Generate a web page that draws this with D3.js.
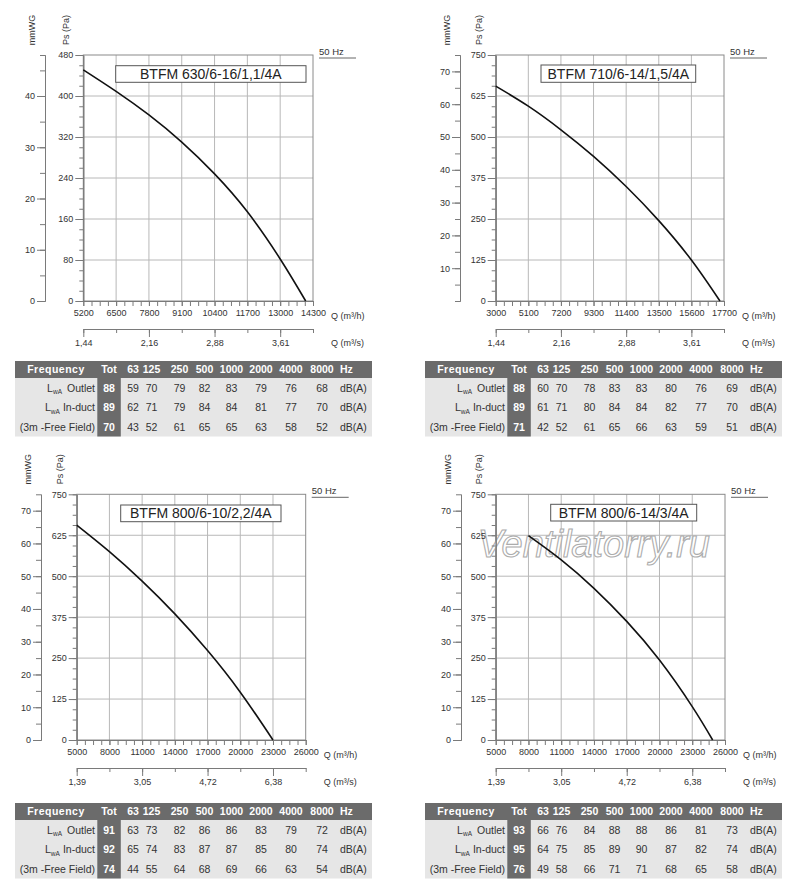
<!DOCTYPE html>
<html>
<head>
<meta charset="utf-8">
<script src="https://cdn.jsdelivr.net/npm/d3@7"></script>
<style>
body{margin:0;background:#fff;}
svg text{font-family:"Liberation Sans",Arial,sans-serif;fill:#333;}
</style>
</head>
<body>
<svg id="chart" width="800" height="893"></svg>
<script>
// shared table headings
var bands = ['63', '125', '250', '500', '1000', '2000', '4000', '8000'];
var rowNames = ['Outlet', 'In-duct', '(3m -Free Field)'];

// BTFM 630/6-16/1,1/4A
var c1Title = 'BTFM 630/6-16/1,1/4A';
var c1Q = [5200, 6500, 7800, 9100, 10400, 11700, 13000, 14010];
var c1Ps = [451, 409, 363, 310, 248, 174, 82, 0];
var c1QTicks = [5200, 6500, 7800, 9100, 10400, 11700, 13000, 14300];
var c1PaTicks = [0, 80, 160, 240, 320, 400, 480];
var c1MmTicks = [0, 10, 20, 30, 40];
var c1SecLabels = ['1,44', '2,16', '2,88', '3,61'];
var c1Tot = [88, 89, 70];
var c1Outlet = [59, 70, 79, 82, 83, 79, 76, 68];
var c1InDuct = [62, 71, 79, 84, 84, 81, 77, 70];
var c1Free = [43, 52, 61, 65, 65, 63, 58, 52];

// BTFM 710/6-14/1,5/4A
var c2Title = 'BTFM 710/6-14/1,5/4A';
var c2Q = [3000, 5100, 7200, 9300, 11400, 13500, 15600, 17440];
var c2Ps = [655, 594, 522, 441, 349, 245, 125, 0];
var c2QTicks = [3000, 5100, 7200, 9300, 11400, 13500, 15600, 17700];
var c2PaTicks = [0, 125, 250, 375, 500, 625, 750];
var c2MmTicks = [10, 20, 30, 40, 50, 60, 70];
var c2SecLabels = ['1,44', '2,16', '2,88', '3,61'];
var c2Tot = [88, 89, 71];
var c2Outlet = [60, 70, 78, 83, 83, 80, 76, 69];
var c2InDuct = [61, 71, 80, 84, 84, 82, 77, 70];
var c2Free = [42, 52, 61, 65, 66, 63, 59, 51];

// BTFM 800/6-10/2,2/4A
var c3Title = 'BTFM 800/6-10/2,2/4A';
var c3Q = [5000, 8000, 11000, 14000, 17000, 20000, 23000];
var c3Ps = [656, 575, 485, 385, 273, 146, 0];
var c3QTicks = [5000, 8000, 11000, 14000, 17000, 20000, 23000, 26000];
var c3PaTicks = [0, 125, 250, 375, 500, 625, 750];
var c3MmTicks = [0, 10, 20, 30, 40, 50, 60, 70];
var c3SecLabels = ['1,39', '3,05', '4,72', '6,38'];
var c3Tot = [91, 92, 74];
var c3Outlet = [63, 73, 82, 86, 86, 83, 79, 72];
var c3InDuct = [65, 74, 83, 87, 87, 85, 80, 74];
var c3Free = [44, 55, 64, 68, 69, 66, 63, 54];

// BTFM 800/6-14/3/4A
var c4Title = 'BTFM 800/6-14/3/4A';
var c4Q = [8000, 11000, 14000, 17000, 20000, 23000, 24870];
var c4Ps = [624, 550, 463, 362, 244, 102, 0];
var c4QTicks = [5000, 8000, 11000, 14000, 17000, 20000, 23000, 26000];
var c4PaTicks = [0, 125, 250, 375, 500, 625, 750];
var c4MmTicks = [0, 10, 20, 30, 40, 50, 60, 70];
var c4SecLabels = ['1,39', '3,05', '4,72', '6,38'];
var c4Tot = [93, 95, 76];
var c4Outlet = [66, 76, 84, 88, 88, 86, 81, 73];
var c4InDuct = [64, 75, 85, 89, 90, 87, 82, 74];
var c4Free = [49, 58, 66, 71, 71, 68, 65, 58];

var charts = [
    {title: c1Title, q: c1Q, ps: c1Ps, qTicks: c1QTicks, paTicks: c1PaTicks, mmTicks: c1MmTicks, sec: c1SecLabels, tot: c1Tot, rows: [c1Outlet, c1InDuct, c1Free]},
    {title: c2Title, q: c2Q, ps: c2Ps, qTicks: c2QTicks, paTicks: c2PaTicks, mmTicks: c2MmTicks, sec: c2SecLabels, tot: c2Tot, rows: [c2Outlet, c2InDuct, c2Free]},
    {title: c3Title, q: c3Q, ps: c3Ps, qTicks: c3QTicks, paTicks: c3PaTicks, mmTicks: c3MmTicks, sec: c3SecLabels, tot: c3Tot, rows: [c3Outlet, c3InDuct, c3Free]},
    {title: c4Title, q: c4Q, ps: c4Ps, qTicks: c4QTicks, paTicks: c4PaTicks, mmTicks: c4MmTicks, sec: c4SecLabels, tot: c4Tot, rows: [c4Outlet, c4InDuct, c4Free]}
];

// where each panel sits on the page
var layout = [
    {mmX: 45, left: 83.3, right: 313, top: 55, bottom: 301, tableX: 15, tableY: 361, box: [115.7, 65.7, 190.3, 16.6]},
    {mmX: 460, left: 495.7, right: 724, top: 55, bottom: 301, tableX: 425, tableY: 361, box: [541, 65, 154.7, 17.3]},
    {mmX: 41, left: 76.7, right: 305.7, top: 494.3, bottom: 740, tableX: 15, tableY: 803, box: [120.7, 505, 160.3, 16.7]},
    {mmX: 461, left: 495.7, right: 725, top: 494.3, bottom: 740, tableX: 425, tableY: 803, box: [550.7, 504.3, 146, 16.7], watermark: true}
];

var svg = d3.select('#chart');
var axisColor = '#7a7a7a';
var gridColor = '#b8b8b8';

charts.forEach(function(c, i){
    drawChart(c, layout[i]);
    drawTable(c, layout[i]);
});

function styleAxis(sel, size){
    sel.attr('color', axisColor)
        .attr('font-size', size || 9)
        .attr('font-family', null);
    sel.select('.domain').attr('stroke', axisColor);
}

function drawChart(c, L){
    var qMin = c.qTicks[0], qMax = c.qTicks[c.qTicks.length-1];
    var paMax = c.paTicks[c.paTicks.length-1];
    var x = d3.scaleLinear().domain([qMin, qMax]).range([L.left, L.right]);
    var y = d3.scaleLinear().domain([0, paMax]).range([L.bottom, L.top]);
    // chart uses 1 mmWG = 10 Pa
    var ymm = d3.scaleLinear().domain([0, paMax/10]).range([L.bottom, L.top]);

    var g = svg.append('g');

    //grid
    g.append('g').selectAll('line')
        .data(c.qTicks.slice(1, -1))
        .join('line')
        .attr('x1', x).attr('x2', x)
        .attr('y1', L.top).attr('y2', L.bottom)
        .attr('stroke', gridColor);
    g.append('g').selectAll('line')
        .data(c.paTicks.slice(1, -1))
        .join('line')
        .attr('x1', L.left).attr('x2', L.right)
        .attr('y1', y).attr('y2', y)
        .attr('stroke', gridColor);

    g.append('rect')
        .attr('x', L.left).attr('y', L.top)
        .attr('width', L.right-L.left).attr('height', L.bottom-L.top)
        .attr('fill', 'none').attr('stroke', '#8a8a8a');

    if(L.watermark){
        g.append('text')
            .attr('x', L.left-18).attr('y', L.top+63)
            .attr('font-size', 38)
            .attr('font-style', 'italic')
            .style('fill', '#fff')
            .style('fill-opacity', 0.8)
            .style('stroke', '#acacac')
            .style('stroke-width', 1.1)
            .text('Ventilatorry.ru');
    }

    //title box
    g.append('rect')
        .attr('x', L.box[0]).attr('y', L.box[1])
        .attr('width', L.box[2]).attr('height', L.box[3])
        .attr('fill', '#fff').attr('stroke', '#555');
    g.append('text')
        .attr('x', L.box[0]+L.box[2]/2).attr('y', L.box[1]+L.box[3]/2+5)
        .attr('text-anchor', 'middle')
        .attr('font-size', 14)
        .style('fill', '#222')
        .text(c.title);

    //50 Hz
    g.append('text')
        .attr('x', L.right+6).attr('y', L.top)
        .attr('font-size', 9.5)
        .text('50 Hz');
    g.append('line')
        .attr('x1', L.right+6).attr('x2', L.right+43)
        .attr('y1', L.top+3).attr('y2', L.top+3)
        .attr('stroke', '#666');

    //Pa axis
    var paStep = c.paTicks[1]-c.paTicks[0];
    var paMinor = d3.range(0, paMax+0.001, paStep/4);
    g.append('g')
        .attr('transform', 'translate('+L.left+',0)')
        .call(d3.axisLeft(y).tickValues(paMinor).tickSize(4).tickFormat('').tickSizeOuter(0))
        .call(styleAxis);
    g.append('g')
        .attr('transform', 'translate('+L.left+',0)')
        .call(d3.axisLeft(y).tickValues(c.paTicks).tickSize(8).tickPadding(2).tickSizeOuter(0))
        .call(styleAxis);

    //mmWG axis
    var mmMinor = d3.range(0, paMax/10, 5);
    g.append('g')
        .attr('transform', 'translate('+L.mmX+',0)')
        .call(d3.axisLeft(ymm).tickValues(mmMinor).tickSize(5).tickFormat('').tickSizeOuter(5))
        .call(styleAxis);
    g.append('g')
        .attr('transform', 'translate('+L.mmX+',0)')
        .call(d3.axisLeft(ymm).tickValues(c.mmTicks).tickSize(8).tickPadding(2).tickSizeOuter(0))
        .call(styleAxis);

    //axis titles
    g.append('text')
        .attr('transform', 'translate('+(L.mmX-13)+','+(L.top-25)+') rotate(-90)')
        .attr('text-anchor', 'middle')
        .attr('dominant-baseline', 'central')
        .attr('font-size', 9)
        .text('mmWG');
    g.append('text')
        .attr('transform', 'translate('+(L.left-17)+','+(L.top-25)+') rotate(-90)')
        .attr('text-anchor', 'middle')
        .attr('dominant-baseline', 'central')
        .attr('font-size', 9)
        .text('Ps (Pa)');

    //Q m3/h axis
    var qStep = c.qTicks[1]-c.qTicks[0];
    var qMinor = d3.range(qMin, qMax+1, qStep/4);
    g.append('g')
        .attr('transform', 'translate(0,'+L.bottom+')')
        .call(d3.axisBottom(x).tickValues(qMinor).tickSize(5).tickFormat('').tickSizeOuter(0))
        .call(styleAxis);
    g.append('g')
        .attr('transform', 'translate(0,'+L.bottom+')')
        .call(d3.axisBottom(x).tickValues(c.qTicks).tickSize(5).tickPadding(4).tickFormat(d3.format('d')).tickSizeOuter(0))
        .call(styleAxis);
    g.append('text')
        .attr('x', L.right+18).attr('y', L.bottom+17.5)
        .attr('font-size', 9)
        .text('Q (m³/h)');

    //Q m3/s axis
    var secY = L.bottom+28;
    g.append('g')
        .attr('transform', 'translate(0,'+secY+')')
        .call(d3.axisBottom(x).tickValues(c.qTicks).tickSize(4).tickFormat('').tickSizeOuter(0))
        .call(styleAxis);
    g.append('g')
        .attr('transform', 'translate(0,'+secY+')')
        .call(d3.axisBottom(x).tickValues(c.qTicks.filter(function(d, i){ return i%2 == 0; }))
            .tickSize(8).tickPadding(3)
            .tickFormat(function(d, i){ return c.sec[i]; })
            .tickSizeOuter(0))
        .call(styleAxis);
    g.append('text')
        .attr('x', L.right+18).attr('y', secY+17)
        .attr('font-size', 9)
        .text('Q (m³/s)');

    //curve
    var pts = c.q.map(function(d, i){ return [d, c.ps[i]]; });
    var line = d3.line()
        .x(function(d){ return x(d[0]); })
        .y(function(d){ return y(d[1]); })
        .curve(d3.curveNatural);
    g.append('path')
        .datum(pts)
        .attr('d', line)
        .attr('fill', 'none')
        .attr('stroke', '#111')
        .attr('stroke-width', 1.6);
}

function drawTable(c, L){
    var W = 357, hH = 17, rH = 19.5;
    var colX = [118, 136.5, 164.5, 189.5, 216.5, 246, 276, 307];
    var dark = '#6b6b6b';
    var t = svg.append('g').attr('transform', 'translate('+L.tableX+','+L.tableY+')');

    t.append('rect').attr('x', 0).attr('y', hH).attr('width', W).attr('height', 3*rH).attr('fill', '#e6e6e6');
    t.append('rect').attr('x', 0).attr('y', 0).attr('width', W).attr('height', hH).attr('fill', dark);
    t.append('rect').attr('x', 82.3).attr('y', 0).attr('width', 23.5).attr('height', hH+3*rH).attr('fill', dark);

    var hy = hH/2+3.8;
    t.append('text').attr('x', 41).attr('y', hy).attr('text-anchor', 'middle')
        .attr('font-size', 10.5).attr('font-weight', 'bold').attr('letter-spacing', 0.5)
        .style('fill', '#fff').text('Frequency');
    t.append('text').attr('x', 94).attr('y', hy).attr('text-anchor', 'middle')
        .attr('font-size', 10.5).attr('font-weight', 'bold')
        .style('fill', '#fff').text('Tot');
    t.selectAll('text.band')
        .data(bands)
        .join('text')
        .attr('class', 'band')
        .attr('x', function(d, i){ return colX[i]; })
        .attr('y', hy)
        .attr('text-anchor', 'middle')
        .attr('font-size', 10.5).attr('font-weight', 'bold')
        .style('fill', '#fff')
        .text(function(d){ return d; });
    t.append('text').attr('x', 325).attr('y', hy)
        .attr('font-size', 10.5).attr('font-weight', 'bold')
        .style('fill', '#fff').text('Hz');

    c.rows.forEach(function(vals, r){
        var ry = hH + rH*r + rH/2 + 3.8;
        var lab = t.append('text').attr('x', 80).attr('y', ry)
            .attr('text-anchor', 'end').attr('font-size', 10.5);
        if(r < 2){
            lab.append('tspan').text('L');
            lab.append('tspan').attr('font-size', 6.5).attr('dy', 2.5).text('wA');
            lab.append('tspan').attr('dy', -2.5).attr('dx', r == 0 ? 5 : 3).text(rowNames[r]);
        }else{
            lab.text(rowNames[r]);
        }
        t.append('text').attr('x', 94).attr('y', ry).attr('text-anchor', 'middle')
            .attr('font-size', 10.5).attr('font-weight', 'bold')
            .style('fill', '#fff').text(c.tot[r]);
        t.append('g').selectAll('text')
            .data(vals)
            .join('text')
            .attr('x', function(d, i){ return colX[i]; })
            .attr('y', ry)
            .attr('text-anchor', 'middle')
            .attr('font-size', 10.5)
            .text(function(d){ return d; });
        t.append('text').attr('x', 325).attr('y', ry)
            .attr('font-size', 10.5).text('dB(A)');
    });
}
</script>
</body>
</html>
